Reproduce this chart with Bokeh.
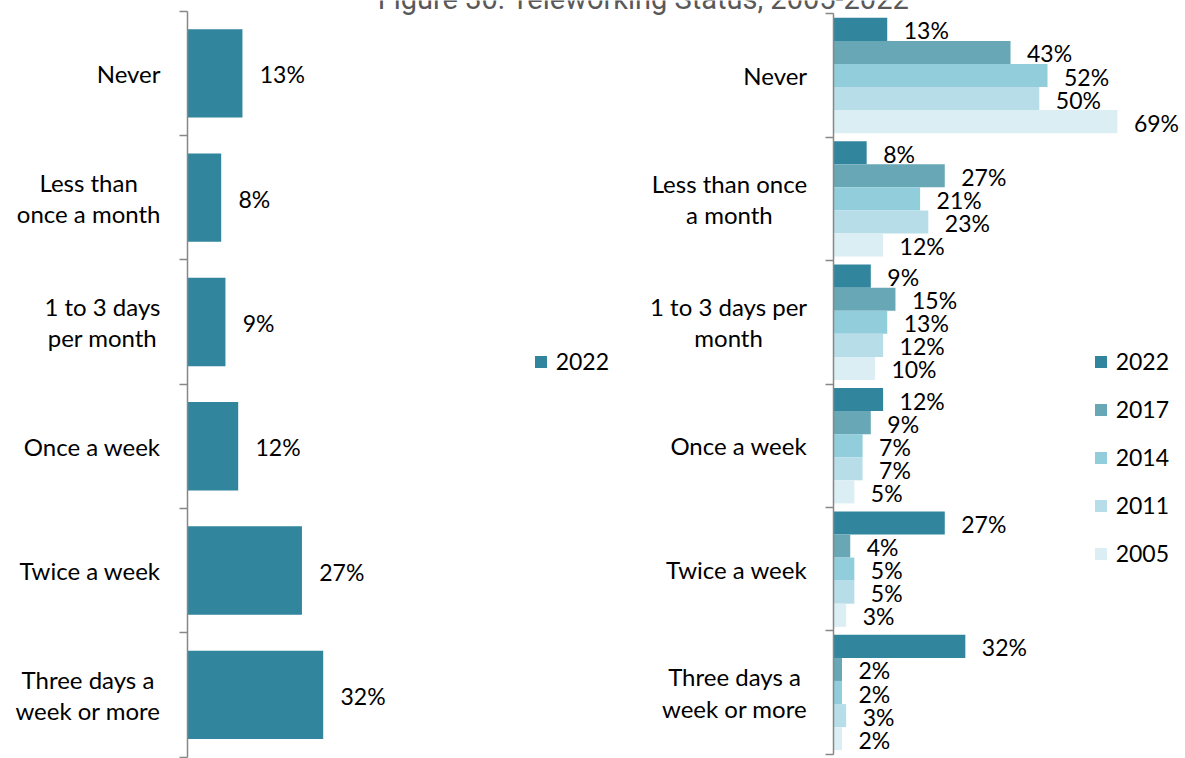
from bokeh.plotting import figure
from bokeh.models import (Range1d, LinearAxis, FixedTicker, Legend, LegendItem,
                          Label, ColumnDataSource)
from bokeh.transform import dodge
from bokeh.core.properties import value
from bokeh.embed import file_html
from bokeh.resources import INLINE

# ---------------- data ----------------
title_text = "Figure 30: Teleworking Status, 2005-2022"
left_categories = ["Never", "Less than\nonce a month", "1 to 3 days\nper month",
                   "Once a week", "Twice a week", "Three days a\nweek or more"]
right_categories = ["Never", "Less than once\na month", "1 to 3 days per\nmonth",
                    "Once a week", "Twice a week", "Three days a\nweek or more"]
years = ["2022", "2017", "2014", "2011", "2005"]
share_2022 = [13, 8, 9, 12, 27, 32]
share_2017 = [43, 27, 15, 9, 4, 2]
share_2014 = [52, 21, 13, 7, 5, 2]
share_2011 = [50, 23, 12, 7, 5, 3]
share_2005 = [69, 12, 10, 5, 3, 2]
series = [share_2022, share_2017, share_2014, share_2011, share_2005]
colors = ["#31859C", "#68A7B5", "#92CDDC", "#B7DEE8", "#DAEEF3"]

# ---------------- layout constants ----------------
W, H = 1185, 758
L_AXIS_X, L_TOP = 186.7, 10.7           # left panel axis position / top (px)
R_AXIS_X, R_TOP = 833.3, 13.3           # right panel axis position / top (px)
L_BAND, R_BAND = 124.3, 123.4           # px per category
L_PX, R_PX = 4.25, 4.11                 # px per percent
AXIS_COL = "#878787"
FONT = "Lato"
FS = "23px"
CAT_FS = "24px"

n = len(left_categories)
pos = [i + 0.5 for i in range(n)]

p = figure(width=W, height=H, output_backend="svg", toolbar_location=None,
           x_range=Range1d(-L_AXIS_X / L_PX, (W - L_AXIS_X) / L_PX),
           y_range=Range1d((H - L_TOP) / L_BAND, -L_TOP / L_BAND),
           min_border_left=0, min_border_right=0, min_border_top=0,
           min_border_bottom=0, x_axis_location=None, y_axis_location=None,
           outline_line_color=None, background_fill_color="white",
           border_fill_color="white")
p.extra_x_ranges = {"r": Range1d(-R_AXIS_X / R_PX, (W - R_AXIS_X) / R_PX)}
p.extra_y_ranges = {"r": Range1d((H - R_TOP) / R_BAND, -R_TOP / R_BAND)}
p.grid.visible = False


def make_axis(**kw):
    return LinearAxis(
        ticker=FixedTicker(ticks=[], minor_ticks=list(range(n + 1))),
        bounds=(0, n), fixed_location=0,
        axis_line_color=AXIS_COL, axis_line_width=1.5,
        major_tick_in=0, major_tick_out=0, minor_tick_in=0, minor_tick_out=8,
        minor_tick_line_color=AXIS_COL, minor_tick_line_width=1.5, **kw)


p.add_layout(make_axis(), "left")
p.add_layout(make_axis(x_range_name="r", y_range_name="r"), "left")

label_style = dict(x=0, x_offset=-26.7, anchor="center_right", text_align="center",
                   text_baseline="middle", text_font=FONT, text_font_size=CAT_FS,
                   text_color="black", text_line_height=1.07)

for yy, lab in zip(pos, left_categories):
    p.add_layout(Label(y=yy, text=lab, **label_style))

for yy, lab in zip(pos, right_categories):
    p.add_layout(Label(y=yy, text=lab, x_range_name="r", y_range_name="r",
                       **label_style))

# ---------------- left panel ----------------
src_l = ColumnDataSource(dict(y=pos, v=share_2022, lab=[f"{v}%" for v in share_2022]))
r_left = p.hbar(y="y", left=0, right="v", height=0.711, source=src_l,
                fill_color=colors[0], line_color=None)
p.text(x="v", y="y", text="lab", source=src_l, x_offset=17.3, y_offset=1,
       text_font=value(FONT), text_font_size=FS, text_baseline="middle",
       text_align="left", text_color="black")

# ---------------- right panel ----------------
bar_h = 0.187
right_renderers = []
for j, (yr, vals, col) in enumerate(zip(years, series, colors)):
    src = ColumnDataSource(dict(y=pos, v=vals, lab=[f"{v}%" for v in vals]))
    off = (j - 2) * bar_h
    r = p.hbar(y=dodge("y", off), left=0, right="v", height=bar_h, source=src,
               fill_color=col, line_color=None, x_range_name="r", y_range_name="r")
    right_renderers.append(r)
    p.text(x="v", y=dodge("y", off), text="lab", source=src, x_offset=16.5, y_offset=1,
           text_font=value(FONT), text_font_size=FS, text_baseline="middle",
           text_align="left", text_color="black", x_range_name="r", y_range_name="r")

# ---------------- legends ----------------
leg_style = dict(border_line_color=None, background_fill_alpha=0, padding=0, margin=0,
                 glyph_width=15, glyph_height=15, label_standoff=8,
                 label_text_font=FONT, label_text_font_size=FS,
                 label_text_color="black")
leg_l = Legend(items=[LegendItem(label=years[0], renderers=[r_left])],
               location=(532.7, 383), **leg_style)
leg_r = Legend(items=[LegendItem(label=yr, renderers=[r])
                      for yr, r in zip(years, right_renderers)],
               location=(1092.7, 191), spacing=20, **leg_style)
p.add_layout(leg_l)
p.add_layout(leg_r)

# ---------------- title (cut off at the top edge, as in the reference) ----------------
p.add_layout(Label(x=643, y=H + 1.3, x_units="screen", y_units="screen",
                   text=title_text, text_font="Roboto", text_font_size="29px",
                   text_color="#595959", text_align="center",
                   text_baseline="alphabetic"))

open("out.html", "w").write(file_html(p, INLINE))
